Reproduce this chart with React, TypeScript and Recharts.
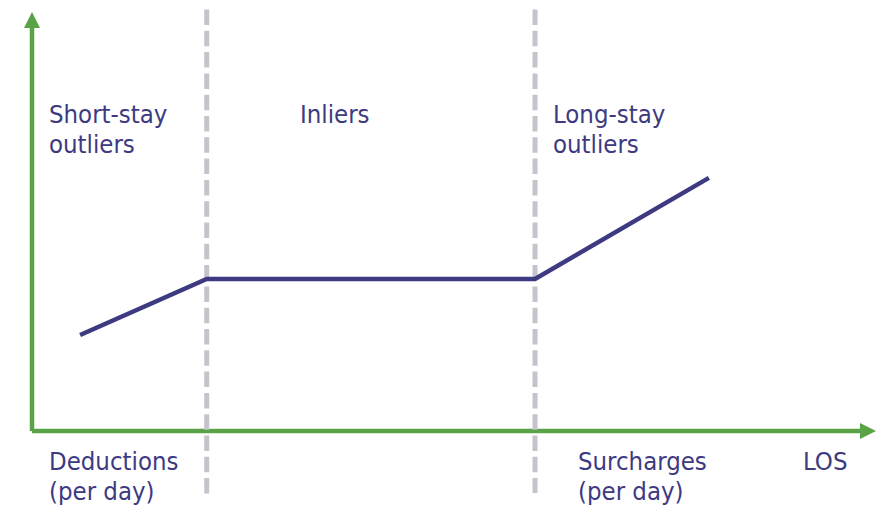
import React from 'react';
import { LineChart, Line, XAxis, YAxis, ReferenceLine } from 'recharts';

// conceptual LOS payment curve (x = length of stay, y = payment), both in 0-100 units
const losPoints = [5.7, 20.7, 59.6, 80.2];
const payment = [22.9, 36.3, 36.3, 60.4];
const trimPoints = [20.7, 59.6];
const regionLabels = [['Short-stay', 'outliers'], ['Inliers'], ['Long-stay', 'outliers']];
const bottomLabels = [['Deductions', '(per day)'], ['Surcharges', '(per day)'], ['LOS']];

const data = losPoints.map((x, i) => ({ x, y: payment[i] }));

const NAVY = '#3d3a82';
const GREEN = '#5aa246';
const GREY = '#c4c4cc';

const Arrow = (props: any) => {
  const { x1, y1, x2, y2 } = props;
  const dx = x2 - x1;
  const dy = y2 - y1;
  const len = Math.sqrt(dx * dx + dy * dy) || 1;
  const ux = dx / len;
  const uy = dy / len;
  const head = 16;
  const half = 8;
  const bx = x2 - ux * head;
  const by = y2 - uy * head;
  return (
    <g>
      <line x1={x1} y1={y1} x2={bx} y2={by} stroke={GREEN} strokeWidth={4.5} />
      <polygon
        points={`${x2},${y2} ${bx - uy * half},${by + ux * half} ${bx + uy * half},${by - ux * half}`}
        fill={GREEN}
      />
    </g>
  );
};

const textStyle: React.CSSProperties = {
  fontFamily: '"DejaVu Sans", Verdana, sans-serif',
  fontStretch: 'condensed',
  fontSize: 25.5,
  fill: NAVY,
};

const Label = ({ x, y, lines }: { x: number; y: number; lines: string[] }) => (
  <text x={x} y={y} style={textStyle}>
    {lines.map((l, i) => (
      <tspan key={l + i} x={x} dy={i === 0 ? 0 : 30.5}>
        {l}
      </tspan>
    ))}
  </text>
);

export default function App() {
  return (
    <div style={{ position: 'absolute', left: 0, top: 0, width: 880, height: 507, background: '#fff' }}>
      <LineChart width={880} height={507} data={data} margin={{ top: 12, right: 4, bottom: 76, left: 32 }}>
        <XAxis dataKey="x" type="number" domain={[0, 100]} hide />
        <YAxis type="number" domain={[0, 100]} hide />
        <ReferenceLine segment={[{ x: 0, y: 0 }, { x: 0, y: 100 }]} ifOverflow="visible" shape={Arrow} />
        <ReferenceLine segment={[{ x: 0, y: 0 }, { x: 100, y: 0 }]} ifOverflow="visible" shape={Arrow} />
        {trimPoints.map((t, i) => (
          <ReferenceLine
            key={t}
            segment={[{ x: t, y: 100.6 }, { x: t, y: i === 0 ? -15.3 : -14.8 }]}
            ifOverflow="visible"
            stroke={GREY}
            strokeWidth={5}
            strokeDasharray="15.5 5.8"
          />
        ))}
        <Line
          dataKey="y"
          stroke={NAVY}
          strokeWidth={4.5}
          dot={false}
          activeDot={false}
          isAnimationActive={false}
          strokeLinejoin="miter"
        />
      </LineChart>
      <svg width={880} height={507} style={{ position: 'absolute', left: 0, top: 0, pointerEvents: 'none' }}>
        <Label x={49} y={122.5} lines={regionLabels[0]} />
        <Label x={300} y={122.5} lines={regionLabels[1]} />
        <Label x={553} y={122.5} lines={regionLabels[2]} />
        <Label x={49} y={469.5} lines={bottomLabels[0]} />
        <Label x={578} y={469.5} lines={bottomLabels[1]} />
        <Label x={803} y={469.5} lines={bottomLabels[2]} />
      </svg>
    </div>
  );
}
